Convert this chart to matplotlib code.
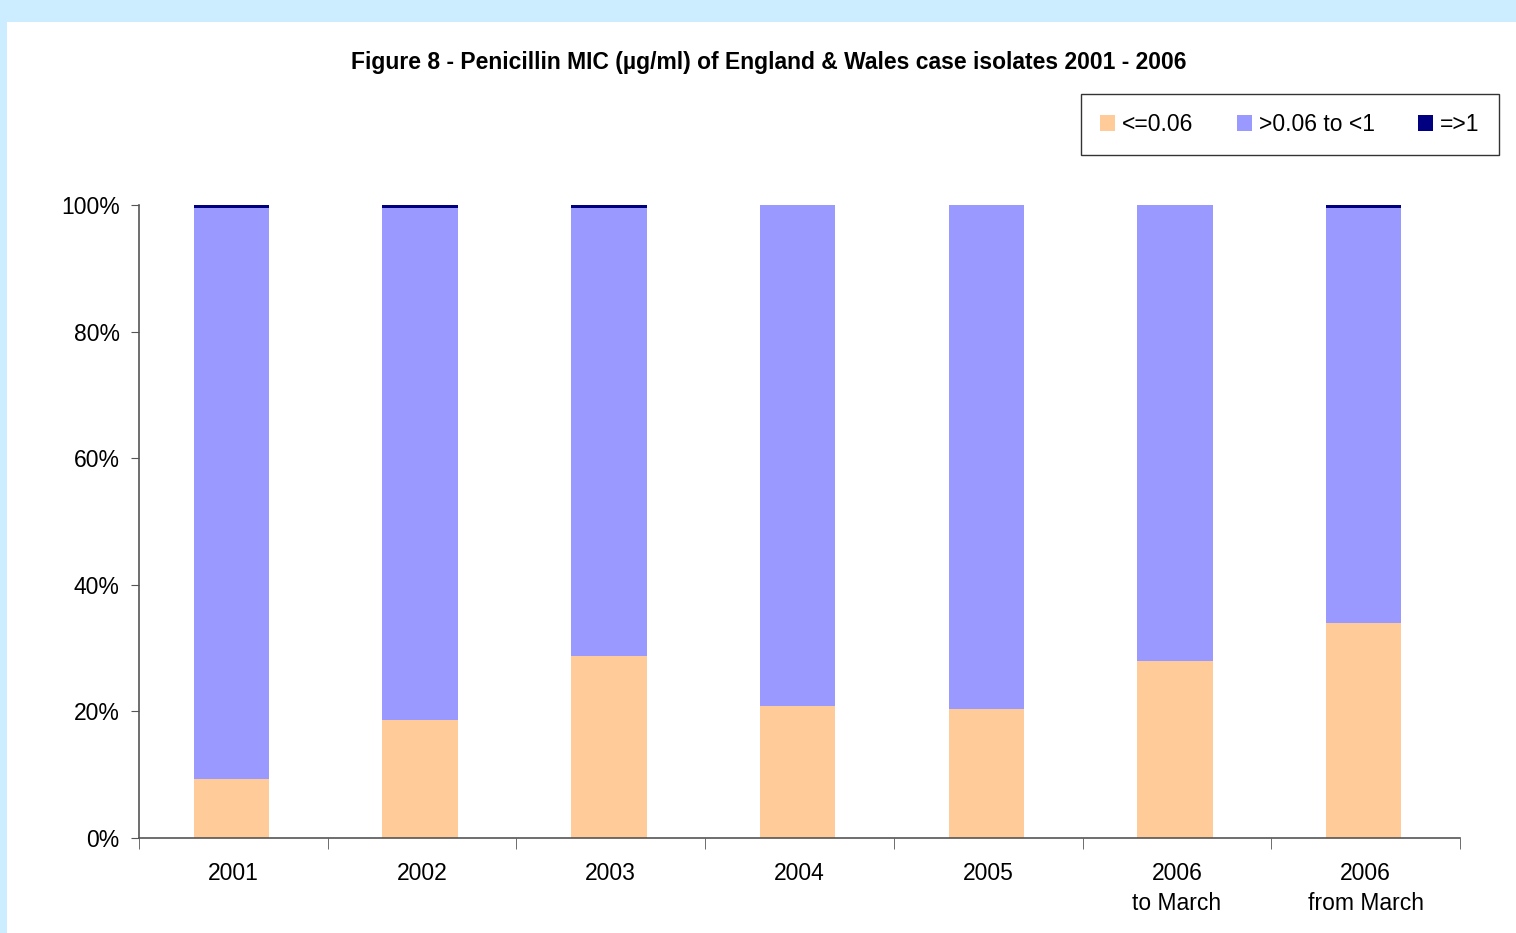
import matplotlib.pyplot as plt
import numpy as np
from matplotlib.patches import Rectangle
from matplotlib.ticker import FixedLocator, FuncFormatter

plt.rcParams['font.family'] = ['Liberation Sans', 'DejaVu Sans']

categories = ['2001', '2002', '2003', '2004', '2005', '2006\nto March', '2006\nfrom March']
low = [9.3, 18.6, 28.8, 20.9, 20.4, 28.0, 34.0]          # <=0.06
high_res = [0.4, 0.4, 0.4, 0.0, 0.0, 0.0, 0.4]            # =>1
mid = [100 - a - b for a, b in zip(low, high_res)]        # >0.06 to <1

series_labels = ['<=0.06', '>0.06 to <1', '=>1']
colors = ['#FFCC99', '#9999FF', '#000080']

fig = plt.figure(figsize=(15.16, 9.33), dpi=100)
fig.patch.set_facecolor('#CCECFF')
fig.add_artist(Rectangle((7 / 1516, 0), 1, (933 - 22) / 933,
                         transform=fig.transFigure, facecolor='white',
                         edgecolor='none', zorder=0))

ax = fig.add_axes([139 / 1516, 95 / 933, (1460 - 139) / 1516, (838 - 205) / 933])
ax.set_facecolor('none')

x = np.arange(len(categories)) - 0.01
w = 0.4
b1 = ax.bar(x, low, w, color=colors[0], label=series_labels[0])
b2 = ax.bar(x, mid, w, bottom=low, color=colors[1], label=series_labels[1])
b3 = ax.bar(x, high_res, w, bottom=np.array(low) + np.array(mid),
            color=colors[2], label=series_labels[2])

ax.set_xlim(-0.5, len(categories) - 0.5)
ax.set_ylim(0, 100)
ax.set_yticks(np.arange(0, 101, 20))
ax.yaxis.set_major_formatter(FuncFormatter(lambda v, p: f'{v:.0f}%'))

ax.set_xticks(np.arange(len(categories)))
ax.set_xticklabels(categories, linespacing=1.4)
ax.xaxis.set_minor_locator(FixedLocator(np.arange(-0.5, len(categories), 1)))
ax.tick_params(axis='x', which='major', length=0, pad=17, labelsize=16.5)
ax.tick_params(axis='x', which='minor', length=8, color='#555555', direction='out')
ax.tick_params(axis='y', length=6, color='#555555', labelsize=16.5, pad=8)

for s in ['top', 'right']:
    ax.spines[s].set_visible(False)
for s in ['left', 'bottom']:
    ax.spines[s].set_color('#555555')
    ax.spines[s].set_linewidth(1.2)

fig.text(769 / 1516, 1 - 63 / 933,
         'Figure 8 - Penicillin MIC (µg/ml) of England & Wales case isolates 2001 - 2006',
         ha='center', va='center', fontsize=16.5, fontweight='bold')

leg = fig.legend(handles=[b1, b2, b3], labels=series_labels, ncol=3,
                 loc='center', bbox_to_anchor=(1290 / 1516, 1 - 124.5 / 933),
                 fontsize=16.5, frameon=True, fancybox=False,
                 handlelength=0.65, handleheight=0.65, handletextpad=0.3,
                 columnspacing=1.9, borderpad=0.85, borderaxespad=0)
leg.get_frame().set_edgecolor('black')
leg.get_frame().set_linewidth(1.0)

fig.savefig('out.png', dpi=100)
